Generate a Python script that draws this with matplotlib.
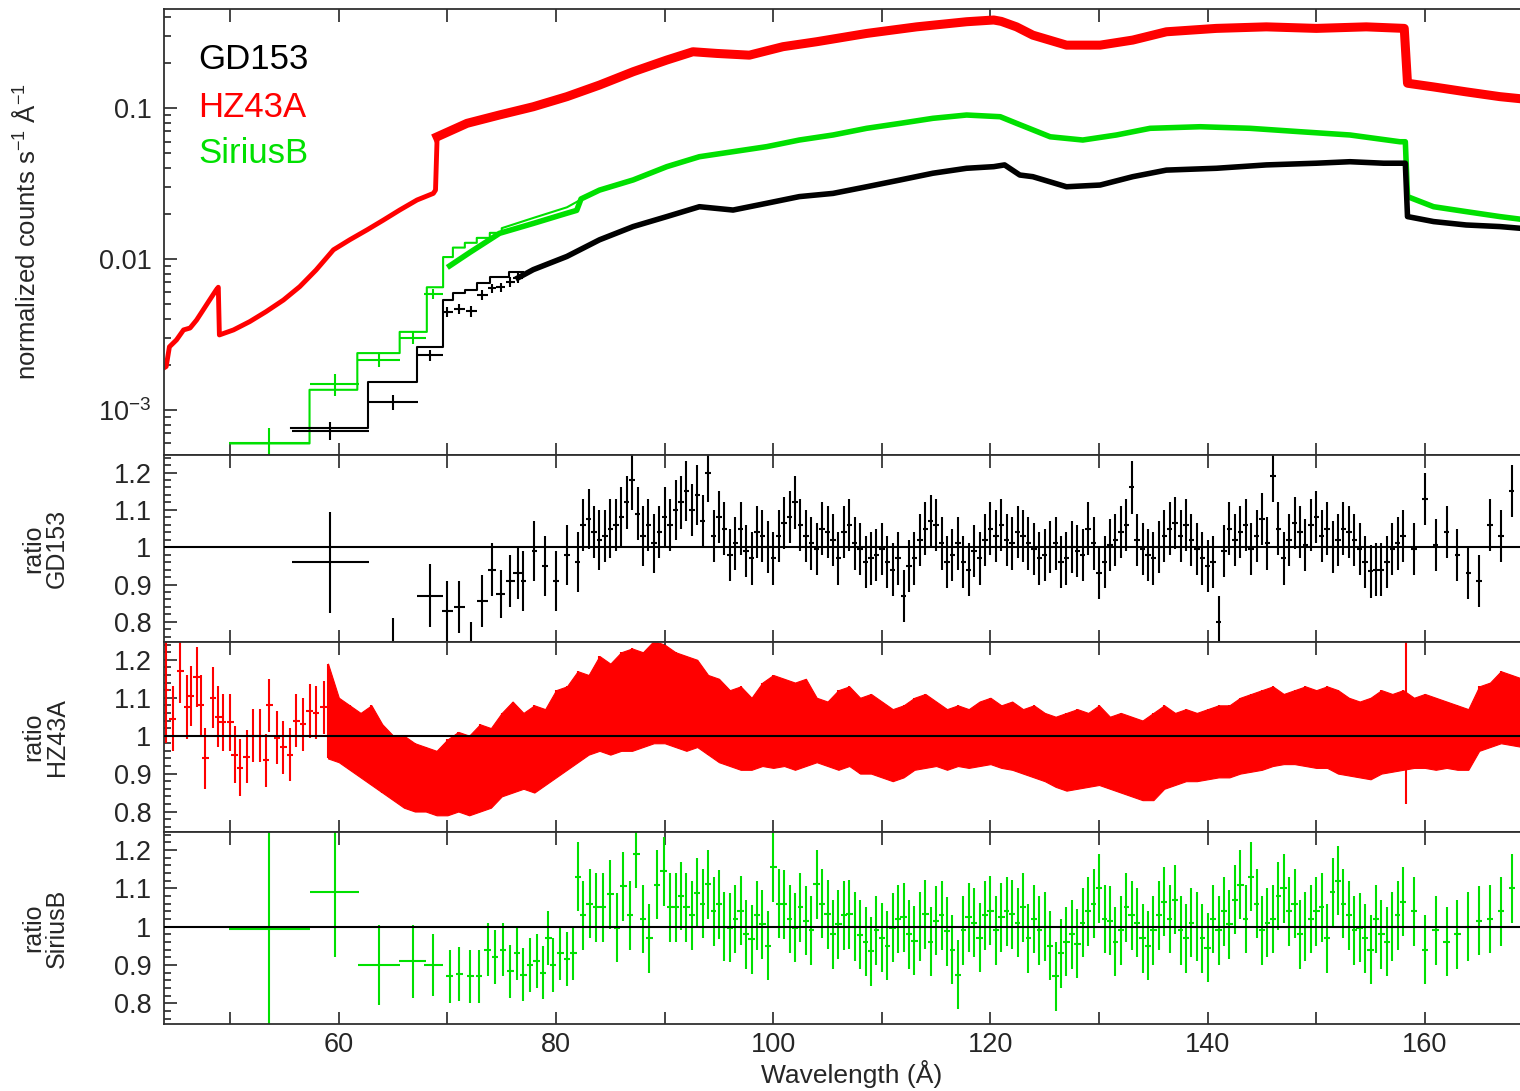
import numpy as np
import matplotlib
matplotlib.use("Agg")
import matplotlib.pyplot as plt
from matplotlib.ticker import MultipleLocator, FixedLocator, FuncFormatter, LogLocator, NullFormatter

# ------------------------------------------------------------------ data
names = ["GD153", "HZ43A", "SiriusB"]

# ---- top panel: GD153 (black)
gd_model_wl = [55.6, 62.7, 62.7, 67.2, 67.2, 69.6, 69.6, 70.5, 70.5, 71.6, 71.6, 72.7,
               72.7, 73.9, 73.9, 75.7, 75.7, 77.0]
gd_model = [7.6e-4, 7.6e-4, 1.53e-3, 1.53e-3, 2.6e-3, 2.6e-3, 5.35e-3, 5.35e-3, 5.96e-3,
            5.96e-3, 6.24e-3, 6.24e-3, 6.94e-3, 6.94e-3, 7.6e-3, 7.6e-3, 8.2e-3, 8.2e-3]
gd_band_wl = [76.5, 77.9, 81.0, 84.0, 87.1, 90.2, 93.2, 96.3, 99.4, 102.4, 105.5, 108.6,
              111.7, 114.7, 117.8, 120.3, 121.3, 122.7, 123.9, 127.0, 130.1, 133.1, 136.2,
              140.8, 145.4, 150.0, 153.1, 156.2, 158.2, 158.4, 160.8, 163.8, 166.9, 170.5]
gd_band = [0.0075, 0.0085, 0.0104, 0.0134, 0.0164, 0.0191, 0.0222, 0.0211, 0.0234, 0.0259,
           0.0272, 0.0301, 0.0334, 0.0370, 0.0399, 0.0409, 0.0420, 0.0360, 0.0351, 0.0301,
           0.0309, 0.0351, 0.0388, 0.0399, 0.0420, 0.0431, 0.0441, 0.0431, 0.0431, 0.0191,
           0.0177, 0.0168, 0.0164, 0.0156]
# GD153 coarse bins (shared by top panel and ratio panel)
gd_sp_wl = [59.2, 65.0, 68.4, 70.0, 71.1, 72.2, 73.2, 74.1, 74.9, 75.8, 76.5]
gd_sp_hw = [3.55, 2.25, 1.2, 0.5, 0.5, 0.5, 0.5, 0.4, 0.4, 0.45, 0.45]
gd_sp_flux = [7.3e-4, 1.13e-3, 2.3e-3, 4.46e-3, 4.67e-3, 4.5e-3, 5.78e-3, 6.43e-3, 6.5e-3,
              7.05e-3, 7.5e-3]
gd_sp_ratio = [0.96, 0.70, 0.87, 0.83, 0.84, 0.72, 0.855, 0.94, 0.875, 0.91, 0.93]
gd_sp_err = [0.135, 0.11, 0.085, 0.08, 0.07, 0.08, 0.07, 0.07, 0.065, 0.07, 0.07]
# GD153 ratio, bins centred on whole Angstroms 77..168
gd_r = [0.91, 0.99, 0.95, 0.91, 0.98, 0.96, 1.075, 1.02, 1.05, 1.08,   # 77-86
        1.18, 1.03, 1.01, 1.08, 1.10, 1.15, 1.14, 1.20, 1.08, 0.98,    # 87-96
        1.05, 0.97, 1.03, 0.97, 1.065, 1.12, 1.03, 0.995, 1.04, 0.97,  # 97-106
        1.06, 0.995, 0.97, 0.995, 0.94, 0.87, 0.97, 1.05, 1.06, 0.96,  # 107-116
        1.01, 0.94, 0.97, 1.05, 1.06, 1.01, 1.03, 0.995, 0.98, 1.01,   # 117-126
        0.97, 0.99, 1.05, 0.93, 1.005, 1.04, 1.16, 0.995, 0.97, 1.03,  # 127-136
        1.065, 1.06, 0.995, 0.95, 0.80, 1.05, 1.04, 0.995, 1.075, 1.19,  # 137-146
        0.97, 1.065, 1.005, 1.08, 1.05, 1.02, 1.04, 0.995, 0.935, 0.94,  # 147-156
        0.995, 1.03, 0.995, 1.13, 1.005, 1.04, 0.98, 0.93, 0.91, 1.06,  # 157-166
        1.03, 1.15]                                                      # 167-168
# GD153 ratio, bins centred on half Angstroms 82.5..157.5
gd_r2 = [1.06, 1.04, 1.03, 1.06, 1.12, 1.09, 1.06, 1.04, 1.06, 1.12,   # 82.5-91.5
         1.10, 1.07, 1.03, 1.05, 1.01, 0.99, 1.04, 1.00, 1.03, 1.08,   # 92.5-101.5
         1.06, 1.01, 1.05, 1.02, 1.04, 1.01, 0.96, 0.98, 0.96, 0.97,   # 102.5-111.5
         0.95, 1.02, 1.07, 1.01, 0.98, 0.96, 0.99, 1.02, 1.03, 1.02,   # 112.5-121.5
         1.04, 1.01, 0.97, 1.00, 0.96, 1.00, 0.98, 1.01, 0.96, 1.02,   # 122.5-131.5
         1.06, 1.02, 0.98, 1.00, 1.05, 1.03, 1.02, 0.97, 0.96, 0.99,   # 132.5-141.5
         1.02, 1.06, 1.03, 1.01, 1.05, 1.02, 1.04, 1.06, 1.03, 1.00,   # 142.5-151.5
         1.05, 1.02, 0.96, 0.94, 0.96, 1.01]                           # 152.5-157.5

# ---- top panel: HZ43A (red)
hz_wl = [43.9, 44.1, 44.4, 45.05, 45.7, 46.3, 46.9, 47.5, 48.1, 48.7, 48.9, 49.0, 50.3,
         51.8, 53.3, 54.9, 56.4, 57.9, 59.5, 61.0, 62.6, 64.1, 65.6, 67.2, 68.7, 68.9,
         69.05, 71.8, 74.8, 77.9, 81.0, 84.0, 87.1, 90.2, 92.6, 94.8, 97.8, 100.9, 104.0,
         108.6, 113.2, 117.8, 120.3, 121.0, 122.4, 123.9, 127.0, 130.1, 133.1, 136.2,
         140.8, 145.4, 150.0, 154.6, 158.1, 158.4, 160.8, 163.8, 166.9, 170.5]
hz_flux = [1.9e-3, 1.94e-3, 2.62e-3, 2.91e-3, 3.39e-3, 3.49e-3, 3.94e-3, 4.59e-3, 5.35e-3,
           6.23e-3, 6.5e-3, 3.14e-3, 3.39e-3, 3.85e-3, 4.48e-3, 5.35e-3, 6.56e-3, 8.45e-3,
           0.0115, 0.0134, 0.0156, 0.0181, 0.0211, 0.0246, 0.0272, 0.0286, 0.0645, 0.0792,
           0.090, 0.102, 0.119, 0.142, 0.174, 0.208, 0.236, 0.230, 0.224, 0.255, 0.275,
           0.312, 0.345, 0.373, 0.383, 0.375, 0.345, 0.304, 0.261, 0.261, 0.282, 0.320,
           0.337, 0.345, 0.337, 0.345, 0.337, 0.146, 0.138, 0.128, 0.119, 0.112]
# HZ43A ratio: separated bins at short wavelength (+ one outlier bin)
hz_r_wl = [44.1, 44.7, 45.4, 46.0, 46.4, 46.9, 47.3, 47.7, 48.4, 48.9, 49.3, 50.0, 50.4,
           50.9, 51.5, 52.1, 52.7, 53.3, 53.6, 54.3, 54.9, 55.5, 56.1, 56.7, 57.3, 57.9,
           58.6, 158.3]
hz_r = [1.12, 1.045, 1.17, 1.075, 1.105, 1.155, 1.08, 0.94, 1.10, 1.05, 1.035, 1.035, 0.95,
        0.915, 0.945, 1.0, 1.0, 0.935, 1.08, 0.995, 0.97, 0.95, 1.04, 1.03, 1.065, 1.06,
        1.075, 1.04]
hz_r_err = [0.14, 0.085, 0.085, 0.085, 0.08, 0.08, 0.08, 0.08, 0.08, 0.08, 0.075, 0.075,
            0.075, 0.075, 0.07, 0.07, 0.07, 0.07, 0.07, 0.07, 0.07, 0.07, 0.07, 0.07, 0.07,
            0.07, 0.07, 0.22]
# HZ43A ratio: top / bottom of the dense error-bar band, per 1 A from 59 to 169
hz_band_hi = [1.19, 1.10, 1.08, 1.06, 1.08, 1.03, 1.00, 1.00, 0.98, 0.97,   # 59-68
              0.96, 0.99, 1.01, 1.00, 1.03, 1.02, 1.06, 1.09, 1.06, 1.08,   # 69-78
              1.07, 1.12, 1.13, 1.17, 1.16, 1.21, 1.19, 1.22, 1.23, 1.22,   # 79-88
              1.25, 1.24, 1.22, 1.21, 1.20, 1.16, 1.15, 1.12, 1.13, 1.10,   # 89-98
              1.14, 1.16, 1.15, 1.14, 1.15, 1.10, 1.09, 1.12, 1.13, 1.10,   # 99-108
              1.11, 1.09, 1.07, 1.08, 1.10, 1.11, 1.09, 1.07, 1.08, 1.07,   # 109-118
              1.09, 1.10, 1.08, 1.09, 1.07, 1.08, 1.06, 1.05, 1.06, 1.07,   # 119-128
              1.06, 1.08, 1.05, 1.06, 1.05, 1.04, 1.06, 1.08, 1.06, 1.07,   # 129-138
              1.06, 1.07, 1.08, 1.08, 1.10, 1.11, 1.12, 1.13, 1.11, 1.12,   # 139-148
              1.13, 1.12, 1.13, 1.12, 1.10, 1.09, 1.10, 1.12, 1.11, 1.12,   # 149-158
              1.10, 1.11, 1.10, 1.09, 1.08, 1.07, 1.13, 1.14, 1.17, 1.16, 1.15]  # 159-169
hz_band_lo = [0.94, 0.93, 0.91, 0.89, 0.87, 0.85, 0.83, 0.81, 0.80, 0.80,   # 59-68
              0.79, 0.79, 0.80, 0.79, 0.80, 0.81, 0.84, 0.85, 0.86, 0.85,   # 69-78
              0.87, 0.89, 0.91, 0.93, 0.95, 0.96, 0.95, 0.96, 0.96, 0.97,   # 79-88
              0.98, 0.98, 0.97, 0.96, 0.97, 0.95, 0.93, 0.92, 0.91, 0.91,   # 89-98
              0.92, 0.915, 0.92, 0.91, 0.92, 0.93, 0.92, 0.91, 0.92, 0.90,  # 99-108
              0.90, 0.89, 0.88, 0.89, 0.91, 0.915, 0.92, 0.91, 0.92, 0.915,  # 109-118
              0.92, 0.925, 0.915, 0.91, 0.90, 0.89, 0.88, 0.865, 0.855, 0.86,  # 119-128
              0.865, 0.87, 0.86, 0.85, 0.84, 0.83, 0.83, 0.86, 0.87, 0.88,   # 129-138
              0.88, 0.885, 0.89, 0.89, 0.90, 0.905, 0.91, 0.92, 0.925, 0.925,  # 139-148
              0.92, 0.915, 0.915, 0.90, 0.895, 0.89, 0.885, 0.90, 0.905, 0.91,  # 149-158
              0.915, 0.915, 0.91, 0.915, 0.91, 0.91, 0.96, 0.97, 0.98, 0.975, 0.97]  # 159-169

# ---- top panel: SiriusB (green)
sb_model_wl = [50.0, 57.3, 57.3, 61.7, 61.7, 65.6, 65.6, 68.1, 68.1, 69.6, 69.6, 70.5,
               70.5, 71.6, 71.6, 72.7, 72.7, 73.9, 73.9, 75.0, 75.0, 77.9, 81.0, 82.4]
sb_model = [6.0e-4, 6.0e-4, 1.36e-3, 1.36e-3, 2.38e-3, 2.38e-3, 3.29e-3, 3.29e-3, 6.5e-3,
            6.5e-3, 0.0103, 0.0103, 0.0119, 0.0119, 0.0128, 0.0128, 0.0138, 0.0138,
            0.0149, 0.0149, 0.0160, 0.0187, 0.0220, 0.0250]
sb_band_wl = [70.2, 72.1, 74.8, 77.9, 81.0, 81.9, 82.3, 84.0, 87.1, 90.2, 93.2, 96.3, 99.4,
              102.4, 105.5, 108.6, 111.7, 114.7, 117.8, 120.9, 122.4, 125.5, 128.5, 131.6,
              134.7, 139.3, 143.9, 148.5, 153.1, 157.7, 158.2, 158.4, 160.8, 163.8, 166.9,
              170.5]
sb_band = [0.0090, 0.0111, 0.0148, 0.0172, 0.0201, 0.0210, 0.0250, 0.0286, 0.0334, 0.0409,
           0.0476, 0.0514, 0.0555, 0.0614, 0.0663, 0.0734, 0.0792, 0.0855, 0.0899, 0.0876,
           0.0792, 0.0645, 0.0614, 0.0663, 0.0734, 0.0752, 0.0734, 0.0697, 0.0663, 0.0598,
           0.0598, 0.0259, 0.0222, 0.0206, 0.0191, 0.0177]
sb_sp_wl = [53.6, 59.6, 63.7, 66.8, 68.7]
sb_sp_hw = [3.75, 2.3, 1.9, 1.25, 0.85]
sb_sp_flux = [6.0e-4, 1.48e-3, 2.15e-3, 3.0e-3, 5.9e-3]
sb_sp_ratio = [0.995, 1.09, 0.90, 0.91, 0.90]
sb_sp_err = [0.27, 0.17, 0.105, 0.095, 0.08]
# SiriusB ratio, finer bins
sb_r_wl = [70.2, 71.1, 72.1, 72.9, 73.7, 74.4, 75.1, 75.8, 76.4, 77.0, 77.6, 78.2, 78.8,
           79.3, 79.7, 80.4, 81.0, 81.6, 82.0, 82.5, 83.1, 83.7, 84.3, 85.0, 85.6, 86.2,
           86.8, 87.4, 88.0, 88.6, 89.3, 89.9, 90.5] + list(range(91, 169))
sb_r = [0.87, 0.877, 0.87, 0.87, 0.94, 0.92, 0.94, 0.883, 0.93, 0.875, 0.90, 0.91, 0.88,
        0.97, 0.90, 0.93, 0.915, 0.93, 1.13, 1.03, 1.06, 1.05, 1.05, 1.085, 0.997, 1.105,
        1.03, 1.19, 1.02, 0.97, 1.11, 1.145, 1.05,
        1.05, 1.05, 1.089, 1.111, 1.058, 0.997, 1.042, 0.967, 1.006, 1.155,   # 91-100
        1.058, 0.997, 1.015, 1.111, 1.032, 1.006, 1.032, 0.979, 0.936, 0.971,  # 101-110
        0.997, 1.024, 0.963, 1.032, 1.015, 0.988, 0.875, 1.024, 0.971, 1.042,  # 111-120
        1.024, 1.032, 1.05, 1.02, 1.0, 0.87, 0.96, 0.955, 1.04, 1.10,          # 121-130
        1.015, 0.99, 1.03, 0.97, 0.99, 1.065, 1.07, 0.97, 1.0, 0.945,          # 131-140
        0.99, 1.006, 1.11, 1.13, 0.99, 1.02, 1.10, 1.06, 1.0, 1.04,            # 141-150
        0.97, 1.12, 1.03, 0.997, 0.94, 0.98, 1.0, 1.065, 1.04, 0.94,           # 151-160
        0.99, 0.96, 0.98, 1.0, 1.015, 1.02, 1.04, 1.10]                        # 161-168
# SiriusB ratio, half-Angstrom bins 91.5..157.5
sb_r2 = [1.08, 1.03, 1.06, 1.04, 1.00, 1.02, 0.98, 1.03, 0.95, 1.06,   # 91.5-100.5
         1.02, 1.05, 0.99, 1.06, 0.98, 1.03, 1.00, 0.96, 0.99, 0.95,   # 101.5-110.5
         1.02, 0.98, 1.00, 0.96, 1.03, 0.94, 0.99, 1.01, 1.03, 0.99,   # 111.5-120.5
         1.04, 1.01, 0.97, 0.99, 0.95, 0.93, 0.98, 1.01, 1.06, 1.02,   # 121.5-130.5
         0.96, 1.05, 1.01, 0.95, 1.03, 1.02, 0.99, 1.01, 0.97, 1.02,   # 131.5-140.5
         1.04, 1.07, 1.02, 1.06, 1.01, 1.08, 1.04, 0.98, 1.02, 1.05,   # 141.5-150.5
         1.09, 1.06, 0.99, 0.97, 1.02, 0.96, 1.03]                     # 151.5-157.5

# ------------------------------------------------------------------ style
plt.rcParams['font.family'] = ['Liberation Sans', 'DejaVu Sans']
plt.rcParams['mathtext.default'] = 'regular'
BLACK, RED, GREEN = '#000000', '#ff0000', '#00e000'
TXT = '#262626'

FW, FH = 1520, 1091
fig = plt.figure(figsize=(FW / 100, FH / 100), dpi=100)


def box(y0, y1, x0=164, x1=1540):
    return [x0 / FW, 1 - y1 / FH, (x1 - x0) / FW, (y1 - y0) / FH]


ax0 = fig.add_axes(box(9, 455))
ax1 = fig.add_axes(box(455, 642))
ax2 = fig.add_axes(box(642, 832))
ax3 = fig.add_axes(box(832, 1024))
axes = [ax0, ax1, ax2, ax3]

XMIN, XMAX = 43.9, 170.6
for ax in axes:
    ax.set_xlim(XMIN, XMAX)
    ax.xaxis.set_major_locator(MultipleLocator(10))
    ax.tick_params(axis='both', which='both', direction='in', top=True, right=False,
                   width=1.2, colors=TXT, labelsize=19.5)
    ax.tick_params(which='major', length=9)
    ax.tick_params(which='minor', length=5)
    ax.tick_params(axis='y', pad=9)
    ax.tick_params(axis='x', pad=6)
    for s in ax.spines.values():
        s.set_linewidth(1.3)
        s.set_color('#303030')
    if ax is not ax3:
        ax.tick_params(axis='x', labelbottom=False)

ax3.xaxis.set_major_formatter(FuncFormatter(
    lambda v, p: f"{int(round(v))}" if round(v) % 20 == 0 else ""))
ax3.set_xlabel("Wavelength (Å)", fontsize=19, color=TXT, labelpad=1)

# ---- top panel
ax0.set_yscale('log')
ax0.set_ylim(5.03e-4, 0.453)
ax0.yaxis.set_major_locator(FixedLocator([1e-3, 1e-2, 1e-1]))
ax0.yaxis.set_major_formatter(FuncFormatter(
    lambda v, p: {1e-3: '10$^{-3}$', 1e-2: '0.01', 1e-1: '0.1'}.get(round(v, 6), '')))
ax0.yaxis.set_minor_locator(LogLocator(base=10, subs=np.arange(2, 10)))
ax0.yaxis.set_minor_formatter(NullFormatter())
ax0.set_ylabel("normalized counts s$^{-1}$ Å$^{-1}$", fontsize=18.5, color=TXT)
ax0.yaxis.set_label_coords(-0.090, 0.5)

# red
ax0.plot(hz_wl, hz_flux, color=RED, lw=3.5)
hz_wl_a = np.array(hz_wl)
hz_flux_a = np.array(hz_flux)
m = hz_wl_a >= 69.05
ax0.plot(hz_wl_a[m], hz_flux_a[m], color=RED, lw=6.5)
# green
ax0.plot(sb_model_wl, sb_model, color=GREEN, lw=1.5)
ax0.plot(sb_band_wl, sb_band, color=GREEN, lw=4)
ax0.errorbar(sb_sp_wl, sb_sp_flux, xerr=sb_sp_hw,
             yerr=np.array(sb_sp_flux) * np.array(sb_sp_err),
             fmt='none', ecolor=GREEN, elinewidth=1.5, capsize=0)
# black
ax0.plot(gd_model_wl, gd_model, color=BLACK, lw=1.5)
ax0.plot(gd_band_wl, gd_band, color=BLACK, lw=4)
ax0.errorbar(gd_sp_wl, gd_sp_flux, xerr=gd_sp_hw,
             yerr=np.array(gd_sp_flux) * np.array(gd_sp_err),
             fmt='none', ecolor=BLACK, elinewidth=1.5, capsize=0)

for i, (nm, c) in enumerate(zip(names, [BLACK, RED, GREEN])):
    ax0.text(0.0247, [0.886, 0.780, 0.677][i], nm, color=c, fontsize=25,
             transform=ax0.transAxes, ha='left', va='center')

# ---- ratio panels
RLIM = (0.746, 1.247)
for ax, nm in zip([ax1, ax2, ax3], names):
    ax.set_ylim(*RLIM)
    ax.yaxis.set_major_locator(FixedLocator([0.8, 0.9, 1.0, 1.1, 1.2]))
    ax.yaxis.set_major_formatter(FuncFormatter(lambda v, p: f"{v:g}"))
    ax.yaxis.set_minor_locator(MultipleLocator(0.02))
    ax.axhline(1.0, color=BLACK, lw=1.5, zorder=5)
    ax.set_ylabel(f"ratio\n{nm}", fontsize=18, color=TXT, linespacing=1.0)
    ax.yaxis.set_label_coords(-0.069, 0.5)

# GD153 ratio
ax1.errorbar(gd_sp_wl, gd_sp_ratio, xerr=gd_sp_hw, yerr=gd_sp_err,
             fmt='none', ecolor=BLACK, elinewidth=1.5, capsize=0)
gd_r_wl = np.arange(77, 77 + len(gd_r))
gd_r_err = np.where(gd_r_wl < 95, 0.08, 0.07)
ax1.errorbar(gd_r_wl, gd_r, xerr=0.25, yerr=gd_r_err,
             fmt='none', ecolor=BLACK, elinewidth=1.5, capsize=0)
gd_r2_wl = np.arange(82.5, 82.5 + len(gd_r2))
ax1.errorbar(gd_r2_wl, gd_r2, xerr=0.25, yerr=0.07,
             fmt='none', ecolor=BLACK, elinewidth=1.5, capsize=0)

# HZ43A ratio
hz_band_wl = np.arange(59, 59 + len(hz_band_hi))
ax2.fill_between(hz_band_wl, hz_band_lo, hz_band_hi, color=RED, lw=0.8, edgecolor=RED)
ax2.vlines(hz_band_wl, hz_band_lo, hz_band_hi, color=RED, lw=1.5)
ax2.errorbar(hz_r_wl, hz_r, xerr=0.3, yerr=hz_r_err,
             fmt='none', ecolor=RED, elinewidth=1.5, capsize=0)

# SiriusB ratio
ax3.errorbar(sb_sp_wl, sb_sp_ratio, xerr=sb_sp_hw, yerr=sb_sp_err,
             fmt='none', ecolor=GREEN, elinewidth=1.5, capsize=0)
sb_r_err = np.where(np.asarray(sb_r_wl) < 82, 0.07, 0.09)
ax3.errorbar(sb_r_wl, sb_r, xerr=0.3, yerr=sb_r_err,
             fmt='none', ecolor=GREEN, elinewidth=1.5, capsize=0)
sb_r2_wl = np.arange(91.5, 91.5 + len(sb_r2))
ax3.errorbar(sb_r2_wl, sb_r2, xerr=0.25, yerr=0.09,
             fmt='none', ecolor=GREEN, elinewidth=1.5, capsize=0)

fig.savefig("out.png", dpi=100)
